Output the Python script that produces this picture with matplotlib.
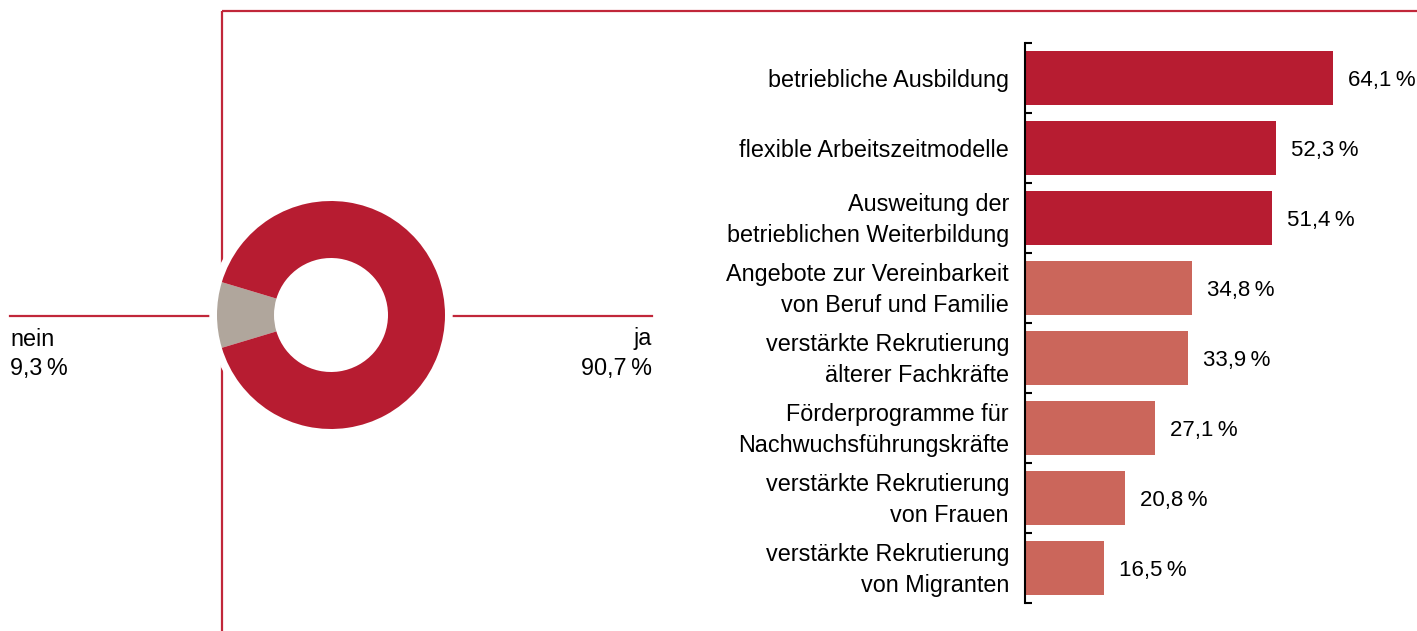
import numpy as np
import matplotlib
matplotlib.use('Agg')
import matplotlib.pyplot as plt
from matplotlib.patches import Circle

# donut data
pie_labels = ['nein', 'ja']
pie_values = [9.3, 90.7]

# bar data
bar_labels = ['betriebliche Ausbildung',
	'flexible Arbeitszeitmodelle',
	'Ausweitung der\nbetrieblichen Weiterbildung',
	'Angebote zur Vereinbarkeit\nvon Beruf und Familie',
	'verstärkte Rekrutierung\nälterer Fachkräfte',
	'Förderprogramme für\nNachwuchsführungskräfte',
	'verstärkte Rekrutierung\nvon Frauen',
	'verstärkte Rekrutierung\nvon Migranten']
bar_values = [64.1, 52.3, 51.4, 34.8, 33.9, 27.1, 20.8, 16.5]


def fmt(v):
	return ('%.1f' % v).replace('.', ',') + '\u2009%'


def main():

	plt.rcParams['font.family'] = ['Liberation Sans', 'DejaVu Sans']
	fs = 16.8
	fs_val = 16

	W, H = 1417, 631
	fig = plt.figure(figsize=(W/100, H/100), dpi=100)

	red = '#B71C31'
	light = '#CB665B'
	grey = '#B0A69C'
	line_red = '#C1273A'

	#background axes in pixel coords for the frame lines
	bg = fig.add_axes([0, 0, 1, 1], zorder=0)
	bg.set_xlim(0, W)
	bg.set_ylim(H, 0)
	bg.axis('off')
	bg.plot([222, 222], [11, H], color=line_red, lw=1.6, solid_capstyle='butt')
	bg.plot([222, W], [11, 11], color=line_red, lw=1.6, solid_capstyle='butt')
	bg.plot([10, 210], [316, 316], color=line_red, lw=1.6)
	bg.plot([452, 652], [316, 316], color=line_red, lw=1.6)

	bg.text(10, 339, pie_labels[0], ha='left', va='center', fontsize=fs)
	bg.text(10, 368, fmt(pie_values[0]), ha='left', va='center', fontsize=fs)
	bg.text(652, 339, pie_labels[1], ha='right', va='center', fontsize=fs)
	bg.text(652, 368, fmt(pie_values[1]), ha='right', va='center', fontsize=fs)

	#donut
	cx, cy, R = 331, 315, 114
	box = 140
	ax_d = fig.add_axes([(cx - box)/W, (H - cy - box)/H, 2*box/W, 2*box/H], zorder=2)
	ax_d.set_xlim(-box/R, box/R)
	ax_d.set_ylim(-box/R, box/R)
	ax_d.set_aspect('equal')
	ax_d.axis('off')
	ax_d.add_patch(Circle((0, 0), 121/R, color='white', zorder=0))
	start = 180 - pie_values[0]*3.6/2
	ax_d.pie(pie_values, colors=[grey, red], startangle=start, counterclock=True,
		radius=1, wedgeprops=dict(width=0.5, linewidth=0))
	ax_d.set_xlim(-box/R, box/R)
	ax_d.set_ylim(-box/R, box/R)

	#bar chart
	x0, x1 = 1025, 1409
	y0, y1 = 43, 603
	xmax = (x1 - x0)/4.8
	ax = fig.add_axes([x0/W, (H - y1)/H, (x1 - x0)/W, (y1 - y0)/H], zorder=1)
	n = len(bar_values)
	pos = np.arange(n) + 0.5
	colors = [red]*3 + [light]*(n - 3)
	ax.barh(pos, bar_values, height=0.76, color=colors, left=0)
	ax.set_xlim(0, xmax)
	ax.set_ylim(n, 0)
	for s in ['top', 'right', 'bottom']:
		ax.spines[s].set_visible(False)
	ax.spines['left'].set_linewidth(1.5)
	ax.set_xticks([])
	ax.set_yticks(np.arange(n + 1))
	ax.set_yticklabels([])
	ax.tick_params(axis='y', direction='in', length=5, width=1.5)
	ax.patch.set_alpha(0)

	for i in range(n):
		ax.text(-16/4.8, pos[i] + 0.03, bar_labels[i], ha='right', va='center',
			fontsize=fs, linespacing=1.4)
		ax.text(bar_values[i] + 15/4.8, pos[i] + 0.03, fmt(bar_values[i]), ha='left',
			va='center', fontsize=fs_val)

	fig.savefig('out.png', dpi=100)

	return


if __name__ == "__main__": main()
